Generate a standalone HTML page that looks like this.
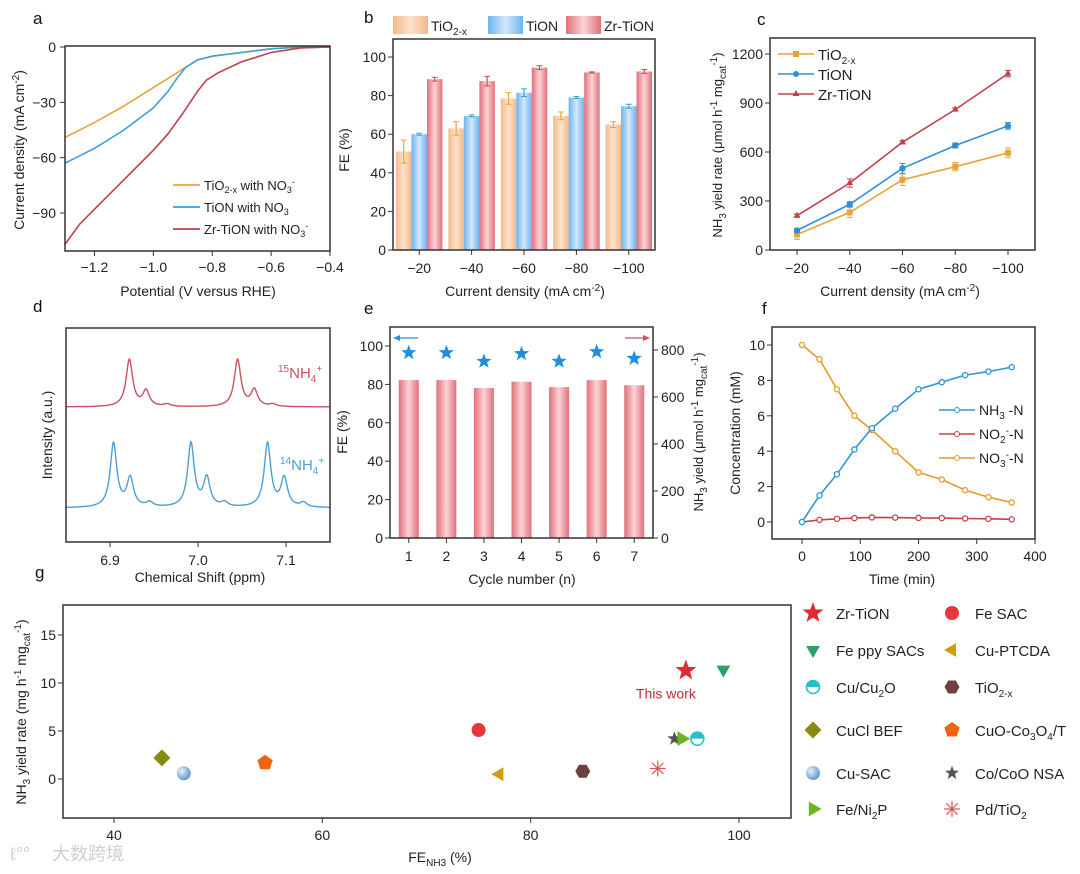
<!DOCTYPE html>
<html><head><meta charset="utf-8">
<style>
html,body{margin:0;padding:0;background:#fff;}
svg{display:block;font-family:"Liberation Sans","Noto Sans CJK SC",sans-serif;}
</style></head>
<body>
<svg id="fig" width="1080" height="874" viewBox="0 0 1080 874" xmlns="http://www.w3.org/2000/svg">
<defs>
<linearGradient id="gO" x1="0" x2="1"><stop offset="0" stop-color="#f3b98a"/><stop offset="0.5" stop-color="#fde3cc"/><stop offset="1" stop-color="#f3b98a"/></linearGradient>
<linearGradient id="gB" x1="0" x2="1"><stop offset="0" stop-color="#6fb3ec"/><stop offset="0.5" stop-color="#d3e9fb"/><stop offset="1" stop-color="#6fb3ec"/></linearGradient>
<linearGradient id="gR" x1="0" x2="1"><stop offset="0" stop-color="#e0707a"/><stop offset="0.5" stop-color="#fbd3d6"/><stop offset="1" stop-color="#e0707a"/></linearGradient>
<radialGradient id="gBall" cx="0.35" cy="0.35" r="0.7"><stop offset="0" stop-color="#e8f2fb"/><stop offset="1" stop-color="#5b93c9"/></radialGradient>
</defs>
</svg>
<script>
// ---------- data ----------
// panel a
const aV_zr=[-1.3,-1.25,-1.2,-1.1,-1.0,-0.95,-0.9,-0.85,-0.82,-0.78,-0.7,-0.6,-0.5,-0.4];
const aJ_zr=[-107,-96,-88,-72,-56,-47,-36,-24,-18,-14,-8,-3,-0.5,0];
const aV_tion=[-1.3,-1.25,-1.2,-1.1,-1.0,-0.95,-0.92,-0.89,-0.85,-0.8,-0.7,-0.6,-0.5,-0.4];
const aJ_tion=[-63,-59,-55,-45,-33,-24,-17,-11,-7,-5,-3,-1,0,0];
const aV_tio2=[-1.3,-1.2,-1.1,-1.0,-0.95,-0.9,-0.85,-0.8,-0.7,-0.6,-0.5,-0.4];
const aJ_tio2=[-49,-41,-32,-22,-17,-12,-7,-5,-3,-1,0,0];
const aXTicks=[-1.2,-1.0,-0.8,-0.6,-0.4];
const aYTicks=[0,-30,-60,-90];
// panel b
const bCats=["−20","−40","−60","−80","−100"];
const bTiO2=[51,63,78.5,69.5,65];
const bTiO2Err=[6,3.5,3,2,1.5];
const bTiON=[60,69.5,81.5,79,74.5];
const bTiONErr=[0.5,0.5,2,0.5,1];
const bZr=[88.5,87.5,94.5,92,92.5];
const bZrErr=[1,2.5,1,0.3,1];
const bYTicks=[0,20,40,60,80,100];
// panel c
const cCats=[-20,-40,-60,-80,-100];
const cTiO2=[95,230,430,510,595];
const cTiO2Err=[30,30,35,25,30];
const cTiON=[120,280,500,640,760];
const cTiONErr=[10,15,30,15,20];
const cZr=[210,410,660,860,1080];
const cZrErr=[10,25,10,10,20];
const cYTicks=[0,300,600,900,1200];
// panel d (NMR peaks)
const dRedPos=[6.922,6.941,6.965,7.045,7.064,7.085];
const dRedH=[1,0.33,0.05,1,0.35,0.05];
const dBluePos=[6.904,6.923,6.945,6.992,7.010,7.030,7.079,7.098,7.120];
const dBlueH=[1,0.45,0.07,1,0.45,0.07,1,0.45,0.07];
const dXTicks=[6.9,7.0,7.1];
// panel e
const eCycles=[1,2,3,4,5,6,7];
const eYield=[672,672,638,665,642,672,650];
const eFE=[96.5,96.5,92,96,92,97,93.5];
const eLTicks=[0,20,40,60,80,100];
const eRTicks=[0,200,400,600,800];
// panel f
const fTime=[0,30,60,90,120,160,200,240,280,320,360];
const fNH3=[0,1.5,2.7,4.1,5.3,6.4,7.5,7.9,8.3,8.5,8.75];
const fNO2=[0,0.12,0.18,0.22,0.26,0.25,0.23,0.22,0.2,0.18,0.15];
const fNO3=[10,9.2,7.5,6,5.2,4,2.8,2.4,1.8,1.4,1.1];
const fXTicks=[0,100,200,300,400];
const fYTicks=[0,2,4,6,8,10];
// panel g
const gNames=["Zr-TiON","Fe SAC","Fe ppy SACs","Cu-PTCDA","Cu/Cu2O","TiO2-x","CuCl BEF","CuO-Co3O4/T","Cu-SAC","Co/CoO NSA","Fe/Ni2P","Pd/TiO2"];
const gFE=[94.9,75,98.5,77,96,85,44.6,54.5,46.7,93.8,94.5,92.2];
const gYield=[11.3,5.1,11.4,0.5,4.2,0.8,2.2,1.7,0.6,4.2,4.2,1.1];
const gXTicks=[40,60,80,100];
const gYTicks=[0,5,10,15];

// ---------- helpers ----------
const NS="http://www.w3.org/2000/svg";
const svg=document.getElementById('fig');
function el(tag,attrs,parent){const e=document.createElementNS(NS,tag);for(const k in attrs)e.setAttribute(k,attrs[k]);(parent||svg).appendChild(e);return e;}
function lin(d0,d1,r0,r1){return v=>r0+(v-d0)*(r1-r0)/(d1-d0);}
function txt(x,y,s,opt,parent){opt=opt||{};const t=el('text',{x:x,y:y,'font-size':opt.size||14,'text-anchor':opt.anchor||'middle',fill:opt.fill||'#222'},parent);if(opt.rot)t.setAttribute('transform','rotate('+opt.rot+' '+x+' '+y+')');t.innerHTML=s;return t;}
function box(x0,y0,x1,y1,parent){el('rect',{x:x0,y:y0,width:x1-x0,height:y1-y0,fill:'none',stroke:'#333','stroke-width':1.5},parent);}
function starPath(cx,cy,R,r){let d='';for(let i=0;i<10;i++){const a=-Math.PI/2+i*Math.PI/5;const rr=i%2?r:R;d+=(i?'L':'M')+(cx+rr*Math.cos(a)).toFixed(1)+' '+(cy+rr*Math.sin(a)).toFixed(1);}return d+'Z';}
function poly(cx,cy,n,R,rot){let p=[];for(let i=0;i<n;i++){const a=rot+i*2*Math.PI/n;p.push((cx+R*Math.cos(a)).toFixed(1)+','+(cy+R*Math.sin(a)).toFixed(1));}return p.join(' ');}
function panelLabel(x,y,s){const t=txt(x,y,s,{size:17,anchor:'start',fill:'#111'});}

// ---------- panel a ----------
(function(){
const g=el('g',{});

const X=lin(-1.3,-0.4,65,330), Y=lin(0,-90,47,213);
const series=[[aV_tio2,aJ_tio2,'#e8a43c','tio2'],[aV_tion,aJ_tion,'#3ea0d8','tion'],[aV_zr,aJ_zr,'#c0404c','zr-tion']];
series.forEach(s=>{const p=el('polyline',{points:s[0].map((v,i)=>X(v).toFixed(1)+','+Y(s[1][i]).toFixed(1)).join(' '),fill:'none',stroke:s[2],'stroke-width':1.6},g);
});
box(65,46,330,251,g);
aXTicks.forEach(v=>{el('line',{x1:X(v),x2:X(v),y1:251,y2:256,stroke:'#333'},g);txt(X(v),272,(v<0?'−':'')+Math.abs(v).toFixed(1),{},g);});
aYTicks.forEach(v=>{el('line',{x1:60,x2:65,y1:Y(v),y2:Y(v),stroke:'#333'},g);txt(56,Y(v)+5,(v<0?'−':'')+Math.abs(v),{anchor:'end'},g);});
const xt=txt(198,296,'Potential (V versus RHE)',{},g);
const yt=txt(24,150,'Current density (mA cm<tspan dy="-5" font-size="10">-2</tspan><tspan dy="5">)</tspan>',{rot:-90},g);
const leg=[['#e8a43c','TiO<tspan dy="3" font-size="9">2-x</tspan><tspan dy="-3"> with NO</tspan><tspan dy="3" font-size="9">3</tspan><tspan dy="-8" font-size="9">-</tspan>'],['#3ea0d8','TiON with NO<tspan dy="3" font-size="9">3</tspan>'],['#c0404c','Zr-TiON with NO<tspan dy="3" font-size="9">3</tspan><tspan dy="-8" font-size="9">-</tspan>']];
leg.forEach((l,i)=>{const y=185+i*22;const lg=el('g',{},g);el('line',{x1:173,x2:200,y1:y,y2:y,stroke:l[0],'stroke-width':1.8},lg);txt(204,y+5,l[1],{anchor:'start',size:13},lg);});
})();
panelLabel(33,24,'a');

// ---------- panel b ----------
(function(){
const g=el('g',{});

const Y=lin(0,100,250,57);const x0=393,x1=655;const gw=(x1-x0)/bCats.length;const bw=15.5;
const sets=[[bTiO2,bTiO2Err,'url(#gO)','#e8a43c','tio2'],[bTiON,bTiONErr,'url(#gB)','#3ea0d8','tion'],[bZr,bZrErr,'url(#gR)','#d04a58','zr-tion']];
bCats.forEach((c,i)=>{const cx=x0+gw*(i+0.5);
sets.forEach((s,j)=>{const bx=cx+(j-1.5)*bw;const r=el('rect',{x:bx,y:Y(s[0][i]),width:bw,height:250-Y(s[0][i]),fill:s[2]},g);

const ex=bx+bw/2;const e1=Y(s[0][i]+s[1][i]),e2=Y(s[0][i]-s[1][i]);
el('line',{x1:ex,x2:ex,y1:e1,y2:e2,stroke:s[3],'stroke-width':1.2},g);el('line',{x1:ex-3,x2:ex+3,y1:e1,y2:e1,stroke:s[3]},g);el('line',{x1:ex-3,x2:ex+3,y1:e2,y2:e2,stroke:s[3]},g);});
el('line',{x1:cx,x2:cx,y1:250,y2:255,stroke:'#333'},g);txt(cx,273,c,{},g);});
box(x0,39,x1,250,g);
bYTicks.forEach(v=>{el('line',{x1:388,x2:393,y1:Y(v),y2:Y(v),stroke:'#333'},g);txt(386,Y(v)+5,v,{anchor:'end'},g);});
const xt=txt(525,296,'Current density (mA cm<tspan dy="-5" font-size="10">-2</tspan><tspan dy="5">)</tspan>',{},g);
const yt=txt(349,150,'FE (%)',{rot:-90},g);
const leg=[[393,'url(#gO)','TiO<tspan dy="4" font-size="10">2-x</tspan>'],[488,'url(#gB)','TiON'],[566,'url(#gR)','Zr-TiON']];
leg.forEach((l,i)=>{const lg=el('g',{},g);el('rect',{x:l[0],y:16,width:35,height:18,fill:l[1]},lg);txt(l[0]+38,31,l[2],{anchor:'start',size:14},lg);});
})();
panelLabel(364,23,'b');

// ---------- panel c ----------
(function(){
const g=el('g',{});

const X=lin(-20,-100,797,1008),Y=lin(0,1200,250,54);
const sets=[[cTiO2,cTiO2Err,'#e8a43c','sq','tio2'],[cTiON,cTiONErr,'#2f8fd6','ci','tion'],[cZr,cZrErr,'#c0404c','tri','zr-tion']];
sets.forEach(s=>{const p=el('polyline',{points:cCats.map((c,i)=>X(c).toFixed(1)+','+Y(s[0][i]).toFixed(1)).join(' '),fill:'none',stroke:s[2],'stroke-width':1.6},g);

cCats.forEach((c,i)=>{const x=X(c),y=Y(s[0][i]);const e1=Y(s[0][i]+s[1][i]),e2=Y(s[0][i]-s[1][i]);
el('line',{x1:x,x2:x,y1:e1,y2:e2,stroke:s[2]},g);el('line',{x1:x-3,x2:x+3,y1:e1,y2:e1,stroke:s[2]},g);el('line',{x1:x-3,x2:x+3,y1:e2,y2:e2,stroke:s[2]},g);
let m;if(s[3]=='sq')m=el('rect',{x:x-3,y:y-3,width:6,height:6,fill:s[2]},g);else if(s[3]=='ci')m=el('circle',{cx:x,cy:y,r:3.2,fill:s[2]},g);else m=el('polygon',{points:poly(x,y,3,4,-Math.PI/2),fill:s[2]},g);
});});
box(770,38,1035,250,g);
cCats.forEach(c=>{el('line',{x1:X(c),x2:X(c),y1:250,y2:255,stroke:'#333'},g);txt(X(c),273,'−'+Math.abs(c),{},g);});
cYTicks.forEach(v=>{el('line',{x1:765,x2:770,y1:Y(v),y2:Y(v),stroke:'#333'},g);txt(763,Y(v)+5,v,{anchor:'end'},g);});
const xt=txt(900,296,'Current density (mA cm<tspan dy="-5" font-size="10">-2</tspan><tspan dy="5">)</tspan>',{},g);
const yt=txt(722,145,'NH<tspan dy="4" font-size="10">3</tspan><tspan dy="-4"> yield rate (μmol h</tspan><tspan dy="-5" font-size="10">-1</tspan><tspan dy="5"> mg</tspan><tspan dy="4" font-size="10">cat</tspan><tspan dy="-9" font-size="10">-1</tspan><tspan dy="5">)</tspan>',{rot:-90,size:13},g);
const leg=[['#e8a43c','sq','TiO<tspan dy="4" font-size="10">2-x</tspan>'],['#2f8fd6','ci','TiON'],['#c0404c','tri','Zr-TiON']];
leg.forEach((l,i)=>{const y=54+i*20;const lg=el('g',{},g);
el('line',{x1:778,x2:814,y1:y,y2:y,stroke:l[0],'stroke-width':1.6},lg);
if(l[1]=='sq')el('rect',{x:793,y:y-3,width:6,height:6,fill:l[0]},lg);else if(l[1]=='ci')el('circle',{cx:796,cy:y,r:3,fill:l[0]},lg);else el('polygon',{points:poly(796,y,3,4,-Math.PI/2),fill:l[0]},lg);
txt(818,y+6,l[2],{anchor:'start',size:15},lg);});
})();
panelLabel(757,25,'c');

// ---------- panel d ----------
(function(){
const g=el('g',{});

const X=lin(6.85,7.15,66,330);
function spec(pos,h,base,amp,col,name){let pts=[];for(let x=6.85;x<=7.1501;x+=0.0005){let s=0;pos.forEach((p,i)=>{const w=0.0045;s+=h[i]*w*w/((x-p)*(x-p)+w*w);});pts.push(X(x).toFixed(1)+','+(base-amp*s).toFixed(1));}
const p=el('polyline',{points:pts.join(' '),fill:'none',stroke:col,'stroke-width':1.4},g);}
spec(dRedPos,dRedH,407,47,'#c9525c','spectrum-15nh4');
spec(dBluePos,dBlueH,508,64,'#4d9fd6','spectrum-14nh4');
box(66,328,330,542,g);
dXTicks.forEach(v=>{el('line',{x1:X(v),x2:X(v),y1:542,y2:547,stroke:'#333'},g);txt(X(v),565,v.toFixed(1),{},g);});
txt(278,378,'<tspan dy="-6" font-size="10">15</tspan><tspan dy="6">NH</tspan><tspan dy="4" font-size="10">4</tspan><tspan dy="-10" font-size="10">+</tspan>',{anchor:'start',fill:'#c9525c',size:15},g);
txt(280,470,'<tspan dy="-6" font-size="10">14</tspan><tspan dy="6">NH</tspan><tspan dy="4" font-size="10">4</tspan><tspan dy="-10" font-size="10">+</tspan>',{anchor:'start',fill:'#4d9fd6',size:15},g);
const xt=txt(200,582,'Chemical Shift (ppm)',{},g);
const yt=txt(52,435,'Intensity (a.u.)',{rot:-90},g);
})();
panelLabel(33,312,'d');

// ---------- panel e ----------
(function(){
const g=el('g',{});

const X=lin(0.5,7.5,390,653),YL=lin(0,100,538,346),YR=lin(0,800,538,350);
eCycles.forEach((c,i)=>{const r=el('rect',{x:X(c)-10,y:YR(eYield[i]),width:20,height:538-YR(eYield[i]),fill:'url(#gR)'},g);

const s=el('path',{d:starPath(X(c),YL(eFE[i]),8,3.3),fill:'#1e8fe0'},g);
el('line',{x1:X(c),x2:X(c),y1:538,y2:543,stroke:'#333'},g);txt(X(c),561,c,{},g);});
box(390,327,653,538,g);
eLTicks.forEach(v=>{el('line',{x1:385,x2:390,y1:YL(v),y2:YL(v),stroke:'#333'},g);txt(383,YL(v)+5,v,{anchor:'end'},g);});
eRTicks.forEach(v=>{el('line',{x1:653,x2:658,y1:YR(v),y2:YR(v),stroke:'#333'},g);txt(661,YR(v)+5,v,{anchor:'start'},g);});
el('line',{x1:395,x2:418,y1:338,y2:338,stroke:'#2f8fd6','stroke-width':1.3},g);el('polygon',{points:'393,338 400,335 400,341',fill:'#2f8fd6'},g);
el('line',{x1:625,x2:648,y1:338,y2:338,stroke:'#c9525c','stroke-width':1.3},g);el('polygon',{points:'650,338 643,335 643,341',fill:'#c9525c'},g);
const xt=txt(522,584,'Cycle number (n)',{},g);
const yl=txt(347,432,'FE (%)',{rot:-90},g);
const yr=txt(703,432,'NH<tspan dy="4" font-size="10">3</tspan><tspan dy="-4"> yield (μmol h</tspan><tspan dy="-5" font-size="10">-1</tspan><tspan dy="5"> mg</tspan><tspan dy="4" font-size="10">cat</tspan><tspan dy="-9" font-size="10">-1</tspan><tspan dy="5">)</tspan>',{rot:-90,size:13},g);
})();
panelLabel(364,314,'e');

// ---------- panel f ----------
(function(){
const g=el('g',{});

const X=lin(0,400,802,1035),Y=lin(0,10,522,345);
const sets=[[fNO3,'#e89a2c','nitrate'],[fNO2,'#c9404c','nitrite'],[fNH3,'#2f95d6','ammonia']];
sets.forEach(s=>{const p=el('polyline',{points:fTime.map((t,i)=>X(t).toFixed(1)+','+Y(s[0][i]).toFixed(1)).join(' '),fill:'none',stroke:s[1],'stroke-width':1.6},g);

fTime.forEach((t,i)=>{const c=el('circle',{cx:X(t),cy:Y(s[0][i]),r:2.6,fill:'#fff',stroke:s[1],'stroke-width':1.3},g);});});
box(772,327,1035,539,g);
fXTicks.forEach(v=>{el('line',{x1:X(v),x2:X(v),y1:539,y2:544,stroke:'#333'},g);txt(X(v),561,v,{},g);});
fYTicks.forEach(v=>{el('line',{x1:767,x2:772,y1:Y(v),y2:Y(v),stroke:'#333'},g);txt(765,Y(v)+5,v,{anchor:'end'},g);});
const leg=[['#2f95d6','NH<tspan dy="4" font-size="10">3</tspan><tspan dy="-4"> -N</tspan>'],['#c9404c','NO<tspan dy="4" font-size="10">2</tspan><tspan dy="-9" font-size="10">-</tspan><tspan dy="5">-N</tspan>'],['#e89a2c','NO<tspan dy="4" font-size="10">3</tspan><tspan dy="-9" font-size="10">-</tspan><tspan dy="5">-N</tspan>']];
leg.forEach((l,i)=>{const y=410+i*24;const lg=el('g',{},g);
el('line',{x1:939,x2:975,y1:y,y2:y,stroke:l[0],'stroke-width':1.6},lg);el('circle',{cx:957,cy:y,r:2.5,fill:'#fff',stroke:l[0]},lg);txt(979,y+5,l[1],{anchor:'start'},lg);});
const xt=txt(902,584,'Time (min)',{},g);
const yt=txt(740,433,'Concentration (mM)',{rot:-90},g);
})();
panelLabel(762,314,'f');

// ---------- panel g ----------
function gMarker(name,x,y,parent,big){
const k=big?1.15:1;let m;
switch(name){
case "Zr-TiON":m=el('path',{d:starPath(x,y,11*k,4.5*k),fill:'#e02a32'},parent);break;
case "Fe SAC":m=el('circle',{cx:x,cy:y,r:7,fill:'#e6383c'},parent);break;
case "Fe ppy SACs":m=el('polygon',{points:poly(x,y,3,8,Math.PI/2),fill:'#2ea06a'},parent);break;
case "Cu-PTCDA":m=el('polygon',{points:poly(x,y,3,8,Math.PI),fill:'#d39c0e'},parent);break;
case "Cu/Cu2O":m=el('g',{},parent);el('circle',{cx:x,cy:y,r:6.5,fill:'#fff',stroke:'#28c0c8','stroke-width':1.6},m);el('path',{d:'M'+(x-6.5)+' '+y+' A6.5 6.5 0 0 1 '+(x+6.5)+' '+y+' Z',fill:'#28c0c8'},m);break;
case "TiO2-x":m=el('polygon',{points:poly(x,y,6,7.5,0),fill:'#6e4040'},parent);break;
case "CuCl BEF":m=el('polygon',{points:poly(x,y,4,8.5,0),fill:'#8a8a10'},parent);break;
case "CuO-Co3O4/T":m=el('polygon',{points:poly(x,y,5,8,-Math.PI/2),fill:'#f06410'},parent);break;
case "Cu-SAC":m=el('circle',{cx:x,cy:y,r:7,fill:'url(#gBall)'},parent);break;
case "Co/CoO NSA":m=el('path',{d:starPath(x,y,7.5,3),fill:'#555'},parent);break;
case "Fe/Ni2P":m=el('polygon',{points:poly(x,y,3,8.5,0),fill:'#6cb420'},parent);break;
case "Pd/TiO2":m=el('g',{stroke:'#d85858','stroke-width':1.2},parent);for(let i=0;i<4;i++){const a=i*Math.PI/4;el('line',{x1:x-8*Math.cos(a),y1:y-8*Math.sin(a),x2:x+8*Math.cos(a),y2:y+8*Math.sin(a)},m);}break;}
return m;}
(function(){
const g=el('g',{});

const X=lin(40,100,114,739),Y=lin(0,15,779,635);
box(63,605,791,818,g);
gNames.forEach((n,i)=>{const m=gMarker(n,X(gFE[i]),Y(gYield[i]),g);});
const tw=txt(X(gFE[0])-20,Y(gYield[0])+28,'This work',{fill:'#b8303a',size:14},g);
gXTicks.forEach(v=>{el('line',{x1:X(v),x2:X(v),y1:818,y2:823,stroke:'#333'},g);txt(X(v),840,v,{},g);});
gYTicks.forEach(v=>{el('line',{x1:58,x2:63,y1:Y(v),y2:Y(v),stroke:'#333'},g);txt(56,Y(v)+5,v,{anchor:'end'},g);});
const xt=txt(440,862,'FE<tspan dy="4" font-size="10">NH3</tspan><tspan dy="-4"> (%)</tspan>',{},g);
const yt=txt(26,712,'NH<tspan dy="4" font-size="10">3</tspan><tspan dy="-4"> yield rate (mg h</tspan><tspan dy="-5" font-size="10">-1</tspan><tspan dy="5"> mg</tspan><tspan dy="4" font-size="10">cat</tspan><tspan dy="-9" font-size="10">-1</tspan><tspan dy="5">)</tspan>',{rot:-90,size:14},g);
const labels=["Zr-TiON","Fe SAC","Fe ppy SACs","Cu-PTCDA","Cu/Cu<tspan dy='4' font-size='10'>2</tspan><tspan dy='-4'>O</tspan>","TiO<tspan dy='4' font-size='10'>2-x</tspan>","CuCl BEF","CuO-Co<tspan dy='4' font-size='10'>3</tspan><tspan dy='-4'>O</tspan><tspan dy='4' font-size='10'>4</tspan><tspan dy='-4'>/T</tspan>","Cu-SAC","Co/CoO NSA","Fe/Ni<tspan dy='4' font-size='10'>2</tspan><tspan dy='-4'>P</tspan>","Pd/TiO<tspan dy='4' font-size='10'>2</tspan>"];
const rowsY=[613,650,687,730,773,809];
gNames.forEach((n,i)=>{const col=i%2,row=Math.floor(i/2);const mx=col?952:813,y=rowsY[row];
const lg=el('g',{},g);
gMarker(n,mx,y,lg);txt(mx+23,y+6,labels[i],{anchor:'start',size:15},lg);});
})();
panelLabel(35,578,'g');
const wm=txt(52,860,'大数跨境',{anchor:'start',size:18,fill:'#cfcfcf'});

const wm2=txt(10,860,'ℓ°°',{anchor:'start',size:18,fill:'#cfcfcf'});

</script>
</body></html>
